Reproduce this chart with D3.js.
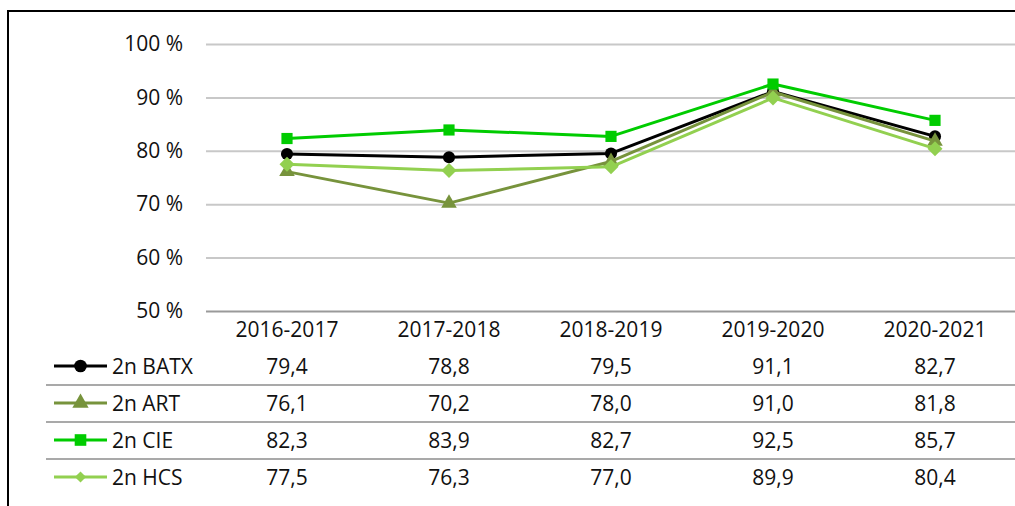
<!DOCTYPE html>
<html>
<head>
<meta charset="utf-8">
<script src="https://cdn.jsdelivr.net/npm/d3@7"></script>
<style>
  html, body { margin: 0; padding: 0; background: #fff; }
  svg { display: block; font-family: "Open Sans", "Noto Sans", sans-serif; }
</style>
</head>
<body>
<svg id="chart" width="1015" height="506"></svg>
<script>
// School years on the x axis
const categories = ["2016-2017", "2017-2018", "2018-2019", "2019-2020", "2020-2021"];

// Percentages per group and year
const seriesNames = ["2n BATX", "2n ART", "2n CIE", "2n HCS"];
const batx = [79.4, 78.8, 79.5, 91.1, 82.7];
const art  = [76.1, 70.2, 78.0, 91.0, 81.8];
const cie  = [82.3, 83.9, 82.7, 92.5, 85.7];
const hcs  = [77.5, 76.3, 77.0, 89.9, 80.4];

// Y axis ticks
const yTicks = [50, 60, 70, 80, 90, 100];

const seriesValues = [batx, art, cie, hcs];
const colors = ["#000000", "#77933C", "#00CC00", "#92D050"];
// diamonds are squares turned by 45 degrees
const symbols = [d3.symbolCircle, d3.symbolTriangle, d3.symbolSquare, d3.symbolSquare];
const rotations = [0, 0, 0, 45];
const symbolSizes = [115, 105, 125, 112];
const legendSizes = [125, 115, 135, 62];
const textColor = "#111";

const svg = d3.select("#chart");

const x = d3.scaleBand().domain(categories).range([206, 1016]);
const y = d3.scaleLinear().domain([50, 100]).range([311, 44]);

const fmt = v => d3.format(".1f")(v).replace(".", ",");

// Outer frame
svg.append("rect")
  .attr("x", 8).attr("y", 11)
  .attr("width", 1100).attr("height", 600)
  .attr("fill", "none").attr("stroke", "#000").attr("stroke-width", 2);

// Gridlines
const grid = svg.append("g").attr("transform", "translate(206,0)")
  .call(d3.axisRight(y).tickValues(yTicks).tickSize(810).tickFormat(""));
grid.select(".domain").remove();
grid.selectAll(".tick line")
  .attr("stroke", d => d === 50 ? "#9a9a9a" : "#c8c8c8")
  .attr("stroke-width", 2);

// Y axis labels
const yAxis = svg.append("g").attr("transform", "translate(183,0)")
  .call(d3.axisLeft(y).tickValues(yTicks).tickSize(0).tickPadding(0)
    .tickFormat(d => d + " %"));
yAxis.select(".domain").remove();
yAxis.selectAll("text")
  .attr("font-size", 21).attr("fill", textColor)
  .attr("font-family", "'Open Sans', sans-serif");

// Lines and markers
const line = d3.line()
  .x((d, i) => x(categories[i]) + x.bandwidth() / 2)
  .y(d => y(d));

seriesValues.forEach((vals, s) => {
  const g = svg.append("g");
  g.append("path")
    .datum(vals)
    .attr("d", line)
    .attr("fill", "none")
    .attr("stroke", colors[s])
    .attr("stroke-width", 3)
    .attr("stroke-linejoin", "round");
  g.selectAll("path.mark")
    .data(vals)
    .join("path")
    .attr("class", "mark")
    .attr("transform", (d, i) =>
      `translate(${x(categories[i]) + x.bandwidth() / 2},${y(d)}) rotate(${rotations[s]})`)
    .attr("d", d3.symbol().type(symbols[s]).size(symbolSizes[s]))
    .attr("fill", colors[s]);
});

// Data table below the plot
const headerY = 329;
const rowY0 = 366;
const rowStep = 37;

svg.append("g").selectAll("text")
  .data(categories)
  .join("text")
  .attr("x", d => x(d) + x.bandwidth() / 2)
  .attr("y", headerY)
  .attr("text-anchor", "middle")
  .attr("dominant-baseline", "central")
  .attr("font-size", 21)
  .attr("fill", textColor)
  .text(d => d);

// Row separators
svg.append("g").selectAll("line")
  .data(d3.range(1, seriesNames.length))
  .join("line")
  .attr("x1", 46).attr("x2", 1015)
  .attr("y1", i => rowY0 + rowStep * i - rowStep / 2 + 0.5)
  .attr("y2", i => rowY0 + rowStep * i - rowStep / 2 + 0.5)
  .attr("stroke", "#8c8c8c").attr("stroke-width", 1.5);

seriesNames.forEach((name, s) => {
  const ry = rowY0 + rowStep * s;
  const row = svg.append("g");
  // legend key
  row.append("line")
    .attr("x1", 54).attr("x2", 107).attr("y1", ry).attr("y2", ry)
    .attr("stroke", colors[s]).attr("stroke-width", 3);
  row.append("path")
    .attr("transform", `translate(80.5,${ry}) rotate(${rotations[s]})`)
    .attr("d", d3.symbol().type(symbols[s]).size(legendSizes[s]))
    .attr("fill", colors[s]);
  row.append("text")
    .attr("x", 112).attr("y", ry)
    .attr("dominant-baseline", "central")
    .attr("font-size", 21).attr("fill", textColor)
    .text(name);
  row.selectAll("text.val")
    .data(seriesValues[s])
    .join("text")
    .attr("class", "val")
    .attr("x", (d, i) => x(categories[i]) + x.bandwidth() / 2)
    .attr("y", ry)
    .attr("text-anchor", "middle")
    .attr("dominant-baseline", "central")
    .attr("font-size", 21).attr("fill", textColor)
    .text(d => fmt(d));
});
</script>
</body>
</html>
